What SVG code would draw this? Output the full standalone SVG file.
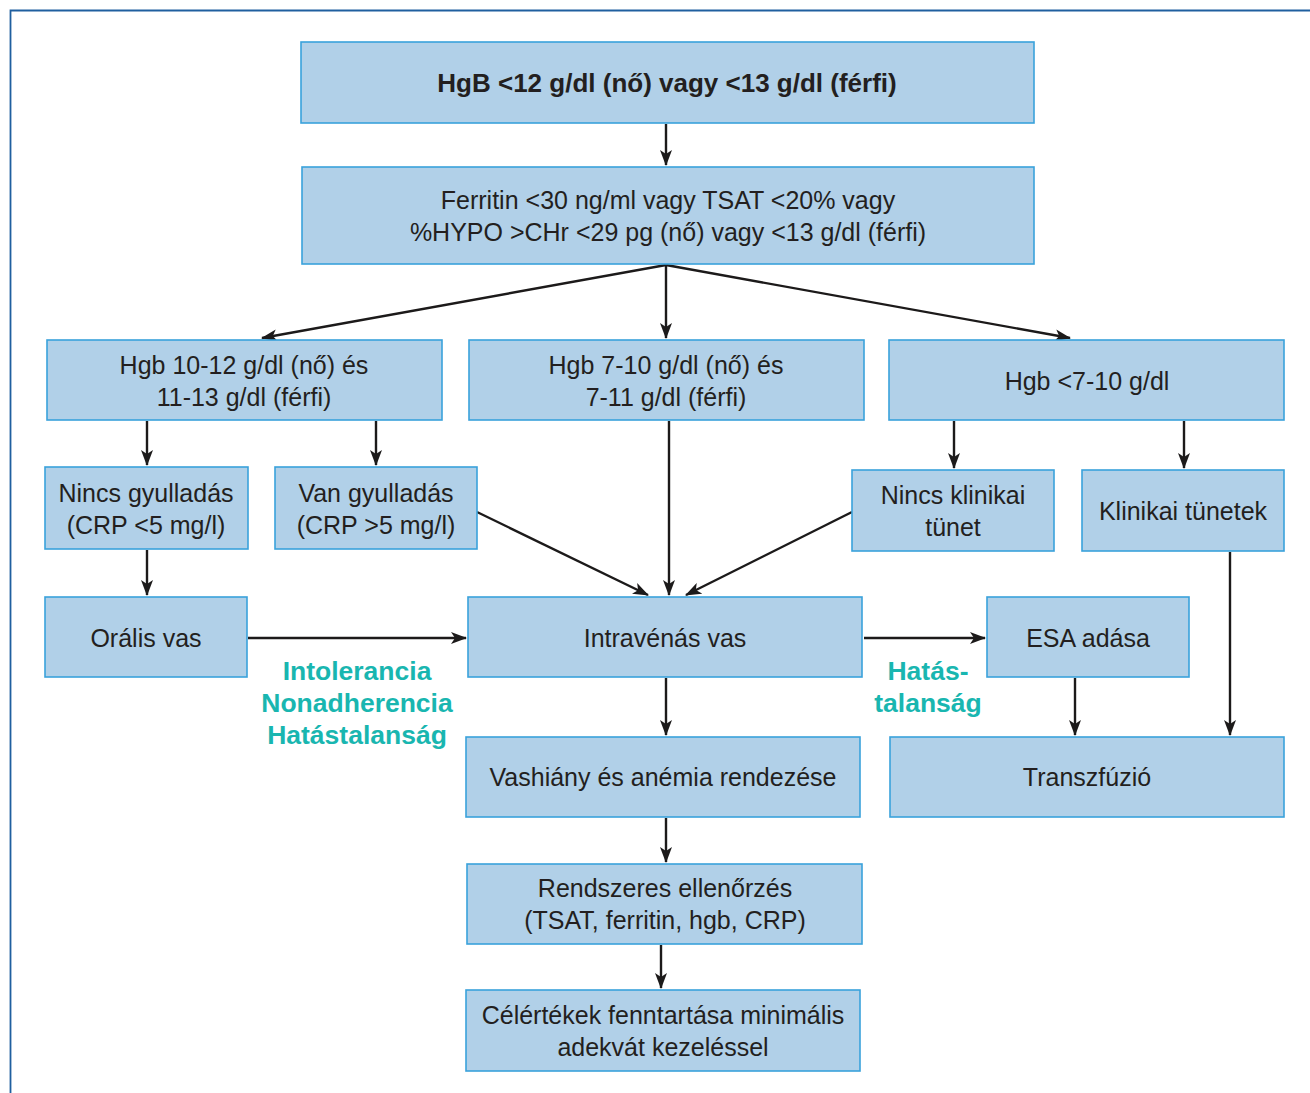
<svg xmlns="http://www.w3.org/2000/svg" width="1310" height="1093" viewBox="0 0 1310 1093">
<defs>
<style>
.box{fill:#b1d0e8;stroke:#3aa2db;stroke-width:1.6}
.t{font-family:"Liberation Sans",Arial,sans-serif;font-size:25px;fill:#231f20;text-anchor:middle}
.b{font-weight:bold;font-size:26px}
.lbl{font-family:"Liberation Sans",Arial,sans-serif;font-size:26.5px;font-weight:bold;fill:#19b6b0;text-anchor:middle}
.c{stroke:#1c1a1a;stroke-width:2.4;fill:none;marker-end:url(#ah)}
</style>
<marker id="ah" viewBox="0 0 16 12" refX="15" refY="6" markerWidth="16" markerHeight="12" markerUnits="userSpaceOnUse" orient="auto">
<path d="M0,0 L16,6 L0,12 L4,6 z" fill="#1c1a1a"/>
</marker>
</defs>
<rect width="1310" height="1093" fill="#fff"/>
<path d="M10.5,1093 V10.5 H1310" fill="none" stroke="#1f5f9f" stroke-width="1.8"/>

<g id="connectors">
<line class="c" x1="666" y1="124" x2="666" y2="165"/>
<line class="c" x1="666" y1="265" x2="262" y2="338"/>
<line class="c" x1="666" y1="265" x2="666" y2="338"/>
<line class="c" x1="666" y1="265" x2="1070" y2="338"/>
<line class="c" x1="147" y1="421" x2="147" y2="465"/>
<line class="c" x1="376" y1="421" x2="376" y2="465"/>
<line class="c" x1="954" y1="421" x2="954" y2="468"/>
<line class="c" x1="1184" y1="421" x2="1184" y2="468"/>
<line class="c" x1="147" y1="550" x2="147" y2="595"/>
<line class="c" x1="477" y1="512" x2="648" y2="595"/>
<line class="c" x1="669" y1="421" x2="669" y2="595"/>
<line class="c" x1="852" y1="512" x2="686" y2="595"/>
<line class="c" x1="248" y1="638" x2="466" y2="638"/>
<line class="c" x1="864" y1="638" x2="985" y2="638"/>
<line class="c" x1="1230" y1="552" x2="1230" y2="735"/>
<line class="c" x1="1075" y1="678" x2="1075" y2="735"/>
<line class="c" x1="666" y1="678" x2="666" y2="735"/>
<line class="c" x1="666" y1="818" x2="666" y2="862"/>
<line class="c" x1="661" y1="945" x2="661" y2="988"/>
</g>

<g id="n1"><rect class="box" x="301" y="42" width="733" height="81"/>
<text class="t b" x="667" y="92">HgB &lt;12 g/dl (nő) vagy &lt;13 g/dl (férfi)</text></g>
<g id="n2"><rect class="box" x="302" y="167" width="732" height="97"/>
<text class="t" x="668" y="209">Ferritin &lt;30 ng/ml vagy TSAT &lt;20% vagy</text>
<text class="t" x="668" y="241">%HYPO &gt;CHr &lt;29 pg (nő) vagy &lt;13 g/dl (férfi)</text></g>
<g id="n3"><rect class="box" x="47" y="340" width="395" height="80"/>
<text class="t" x="244" y="374">Hgb 10-12 g/dl (nő) és</text>
<text class="t" x="244" y="406">11-13 g/dl (férfi)</text></g>
<g id="n4"><rect class="box" x="469" y="340" width="395" height="80"/>
<text class="t" x="666" y="374">Hgb 7-10 g/dl (nő) és</text>
<text class="t" x="666" y="406">7-11 g/dl (férfi)</text></g>
<g id="n5"><rect class="box" x="889" y="340" width="395" height="80"/>
<text class="t" x="1087" y="390">Hgb &lt;7-10 g/dl</text></g>
<g id="n6"><rect class="box" x="45" y="467" width="203" height="82"/>
<text class="t" x="146" y="502">Nincs gyulladás</text>
<text class="t" x="146" y="534">(CRP &lt;5 mg/l)</text></g>
<g id="n7"><rect class="box" x="275" y="467" width="202" height="82"/>
<text class="t" x="376" y="502">Van gyulladás</text>
<text class="t" x="376" y="534">(CRP &gt;5 mg/l)</text></g>
<g id="n8"><rect class="box" x="852" y="470" width="202" height="81"/>
<text class="t" x="953" y="504">Nincs klinikai</text>
<text class="t" x="953" y="536">tünet</text></g>
<g id="n9"><rect class="box" x="1082" y="470" width="202" height="81"/>
<text class="t" x="1183" y="520">Klinikai tünetek</text></g>
<g id="n10"><rect class="box" x="45" y="597" width="202" height="80"/>
<text class="t" x="146" y="647">Orális vas</text></g>
<g id="n11"><rect class="box" x="468" y="597" width="394" height="80"/>
<text class="t" x="665" y="647">Intravénás vas</text></g>
<g id="n12"><rect class="box" x="987" y="597" width="202" height="80"/>
<text class="t" x="1088" y="647">ESA adása</text></g>
<g id="n13"><rect class="box" x="466" y="737" width="394" height="80"/>
<text class="t" x="663" y="786">Vashiány és anémia rendezése</text></g>
<g id="n14"><rect class="box" x="890" y="737" width="394" height="80"/>
<text class="t" x="1087" y="786">Transzfúzió</text></g>
<g id="n15"><rect class="box" x="467" y="864" width="395" height="80"/>
<text class="t" x="665" y="897">Rendszeres ellenőrzés</text>
<text class="t" x="665" y="929">(TSAT, ferritin, hgb, CRP)</text></g>
<g id="n16"><rect class="box" x="466" y="990" width="394" height="81"/>
<text class="t" x="663" y="1024">Célértékek fenntartása minimális</text>
<text class="t" x="663" y="1056">adekvát kezeléssel</text></g>

<g id="labels">
<text class="lbl" x="357" y="680">Intolerancia</text>
<text class="lbl" x="357" y="712">Nonadherencia</text>
<text class="lbl" x="357" y="744">Hatástalanság</text>
<text class="lbl" x="928" y="680">Hatás-</text>
<text class="lbl" x="928" y="712">talanság</text>
</g>
</svg>
